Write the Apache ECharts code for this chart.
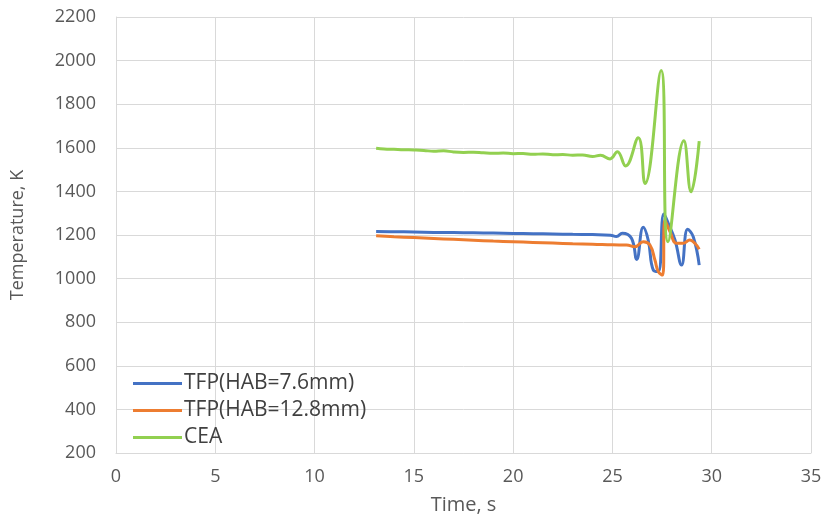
<!DOCTYPE html>
<html>
<head>
<meta charset="utf-8">
<script src="https://cdn.jsdelivr.net/npm/echarts@6/dist/echarts.min.js"></script>
<style>
  html, body { margin: 0; padding: 0; background: #ffffff; }
  #chart { width: 826px; height: 521px; }
</style>
</head>
<body>
<div id="chart"></div>
<script>
// Thermocouple (TFP) readings at two heights above burner, plus CEA equilibrium temperature
const seriesNames = ['TFP(HAB=7.6mm)', 'TFP(HAB=12.8mm)', 'CEA'];

const tfp76Time = [13.1, 14, 15, 16, 17, 18, 19, 20, 21, 22, 23, 24, 24.9, 25.2, 25.5, 25.96, 26.22, 26.55, 26.8, 27.06, 27.31, 27.59, 27.81, 28.15, 28.48, 28.79, 29.07, 29.37];
const tfp76Temp = [1216, 1215, 1214, 1212, 1211, 1210, 1209, 1207, 1206, 1205, 1203, 1202, 1199, 1193, 1208, 1185, 1088, 1235, 1177, 1039, 1032, 1296, 1254, 1177, 1062, 1226, 1192, 1062];

const tfp128Time = [13.1, 14, 15, 16, 17, 18, 19, 20, 21, 22, 23, 24, 25, 25.71, 26.13, 26.55, 26.89, 27.14, 27.31, 27.53, 27.64, 27.9, 28.23, 28.56, 28.9, 29.15, 29.37];
const tfp128Temp = [1196, 1192, 1188, 1184, 1180, 1176, 1172, 1169, 1166, 1163, 1160, 1158, 1155, 1154, 1146, 1169, 1154, 1085, 1032, 1016, 1269, 1215, 1162, 1162, 1177, 1162, 1135];

const ceaTime = [13.1, 13.5, 14, 14.5, 15, 15.5, 16, 16.5, 17, 17.5, 18, 18.5, 19, 19.5, 20, 20.5, 21, 21.5, 22, 22.5, 23, 23.5, 24, 24.4, 24.88, 25.25, 25.66, 26.3, 26.64, 27.45, 27.8, 28.6, 28.96, 29.37];
const ceaTemp = [1598, 1595, 1593, 1591, 1590, 1588, 1584, 1586, 1581, 1579, 1580, 1577, 1575, 1576, 1573, 1574, 1570, 1572, 1568, 1569, 1566, 1567, 1560, 1566, 1549, 1582, 1517, 1646, 1436, 1955, 1169, 1632, 1398, 1631];

const colors = ['#4472C4', '#ED7D31', '#92D050'];

function pairs(xs, ys) {
  return xs.map((x, i) => [x, ys[i]]);
}

const labelStyle = {
  color: '#595959',
  fontSize: 18,
  fontFamily: 'Open Sans',
  formatter: (v) => String(v)
};

function lineSeries(name, xs, ys, color) {
  return {
    name: name,
    type: 'line',
    data: pairs(xs, ys),
    smooth: 0.45,
    symbol: 'none',
    lineStyle: { color: color, width: 3 },
    itemStyle: { color: color }
  };
}

const chart = echarts.init(document.getElementById('chart'), null, { renderer: 'canvas' });
chart.setOption({
  animation: false,
  backgroundColor: '#ffffff',
  color: colors,
  grid: { left: 116, right: 15, top: 17, bottom: 68 },
  legend: {
    orient: 'vertical',
    left: 128,
    top: 368,
    itemWidth: 49,
    itemHeight: 3,
    itemGap: 6,
    icon: 'rect',
    textStyle: { color: '#404040', fontSize: 21, fontFamily: 'Open Sans', padding: [0, 0, 0, -3] },
    data: seriesNames
  },
  xAxis: {
    type: 'value',
    min: 0,
    max: 35,
    interval: 5,
    name: 'Time, s',
    nameLocation: 'middle',
    nameGap: 42,
    nameTextStyle: { color: '#595959', fontSize: 20, fontFamily: 'Open Sans' },
    axisLine: { show: true, lineStyle: { color: '#d9d9d9', width: 1 } },
    axisTick: { show: false },
    axisLabel: Object.assign({ margin: 15 }, labelStyle),
    splitLine: { show: true, lineStyle: { color: '#d9d9d9', width: 1 } }
  },
  yAxis: {
    type: 'value',
    min: 200,
    max: 2200,
    interval: 200,
    name: 'Temperature, K',
    nameLocation: 'middle',
    nameGap: 89,
    nameTextStyle: { color: '#595959', fontSize: 18, fontFamily: 'Open Sans' },
    axisLine: { show: true, lineStyle: { color: '#d9d9d9', width: 1 } },
    axisTick: { show: false },
    axisLabel: Object.assign({ margin: 20 }, labelStyle),
    splitLine: { show: true, lineStyle: { color: '#d9d9d9', width: 1 } }
  },
  series: [
    lineSeries(seriesNames[0], tfp76Time, tfp76Temp, colors[0]),
    lineSeries(seriesNames[1], tfp128Time, tfp128Temp, colors[1]),
    lineSeries(seriesNames[2], ceaTime, ceaTemp, colors[2])
  ]
});
</script>
</body>
</html>
